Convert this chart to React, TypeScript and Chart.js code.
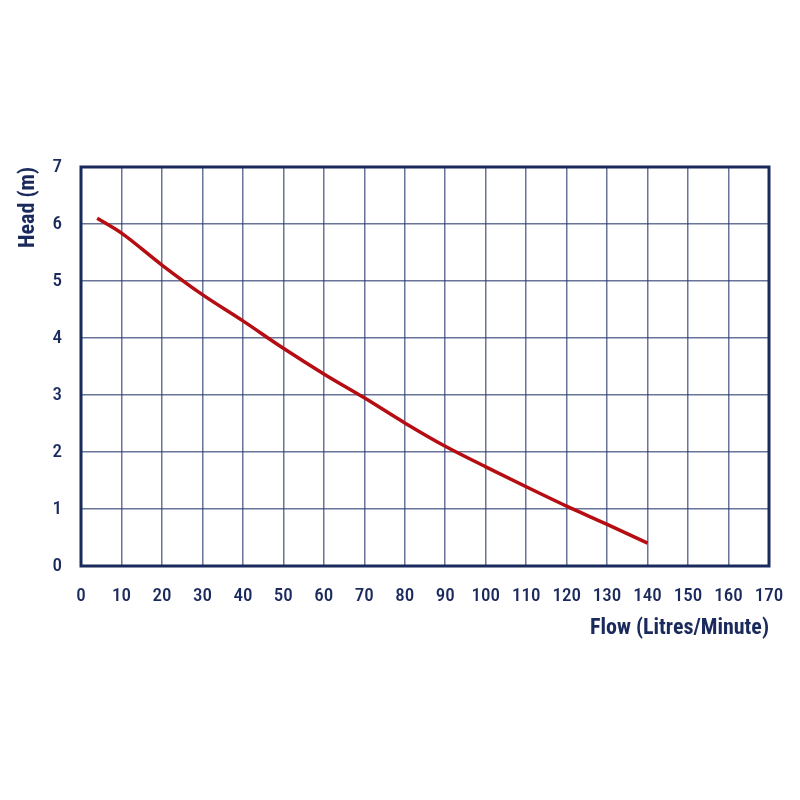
import { Chart, registerables } from 'chart.js';
import { useEffect, useRef } from 'react';

Chart.register(...registerables);

// flow (L/min) vs head (m)
const flow = [4, 10, 20, 30, 40, 50, 60, 70, 80, 90, 100, 110, 120, 130, 140];
const head = [6.1, 5.84, 5.28, 4.76, 4.3, 3.82, 3.37, 2.95, 2.51, 2.1, 1.74, 1.39, 1.05, 0.73, 0.4];
const xTicks = [0, 10, 20, 30, 40, 50, 60, 70, 80, 90, 100, 110, 120, 130, 140, 150, 160, 170];
const yTicks = [0, 1, 2, 3, 4, 5, 6, 7];

const navy = '#1b2a5c';
const fontFamily = "'Roboto Condensed', Roboto, sans-serif";

// draws the heavy outer frame around the plot
const framePlugin = {
    id: 'frame',
    afterDraw(chart: Chart) {
        const { ctx, chartArea } = chart;
        ctx.save();
        ctx.strokeStyle = navy;
        ctx.lineWidth = 3;
        ctx.strokeRect(chartArea.left, chartArea.top, chartArea.right - chartArea.left, chartArea.bottom - chartArea.top);
        ctx.restore();
    },
};

function App() {
    const canvasRef = useRef<HTMLCanvasElement | null>(null);
    const chartRef = useRef<Chart | null>(null);

    useEffect(() => {
        if (!canvasRef.current) return;
        document.body.style.margin = '0';

        chartRef.current = new Chart(canvasRef.current, {
            type: 'line',
            data: {
                datasets: [
                    {
                        data: flow.map((f, i) => ({ x: f, y: head[i] })),
                        borderColor: '#b50d12',
                        borderWidth: 3.5,
                        pointRadius: 0,
                        cubicInterpolationMode: 'monotone',
                        fill: false,
                    },
                ],
            },
            options: {
                animation: false,
                responsive: false,
                layout: { padding: { top: 167, right: 31, left: 0, bottom: 0 } },
                plugins: { legend: { display: false }, tooltip: { enabled: false } },
                scales: {
                    x: {
                        type: 'linear',
                        min: 0,
                        max: 170,
                        afterBuildTicks: (axis: any) => {
                            axis.ticks = xTicks.map((v) => ({ value: v }));
                        },
                        afterFit: (axis: any) => {
                            axis.height = 234;
                            axis.paddingLeft = 0;
                            axis.paddingRight = 0;
                        },
                        grid: { color: 'rgba(40,58,110,0.7)', lineWidth: 1.5, drawTicks: false },
                        border: { display: false },
                        ticks: {
                            color: navy,
                            padding: 19,
                            maxRotation: 0,
                            autoSkip: false,
                            font: { family: fontFamily, size: 19, weight: 500 },
                        },
                        title: {
                            display: true,
                            text: 'Flow (Litres/Minute)',
                            align: 'end',
                            color: navy,
                            font: { family: fontFamily, size: 22, weight: 'bold' },
                            padding: { top: 0, bottom: 158 },
                        },
                    },
                    y: {
                        type: 'linear',
                        min: 0,
                        max: 7,
                        afterBuildTicks: (axis: any) => {
                            axis.ticks = yTicks.map((v) => ({ value: v }));
                        },
                        afterFit: (axis: any) => {
                            axis.width = 81;
                            axis.paddingTop = 0;
                            axis.paddingBottom = 0;
                        },
                        grid: { color: 'rgba(40,58,110,0.7)', lineWidth: 1.5, drawTicks: false },
                        border: { display: false },
                        ticks: {
                            color: navy,
                            padding: 19,
                            font: { family: fontFamily, size: 19, weight: 500 },
                        },
                        title: {
                            display: true,
                            text: 'Head (m)',
                            align: 'end',
                            color: navy,
                            font: { family: fontFamily, size: 22, weight: 'bold' },
                            padding: { top: 15, bottom: 0 },
                        },
                    },
                },
            },
            plugins: [framePlugin],
        });

        return () => {
            if (chartRef.current) {
                chartRef.current.destroy();
                chartRef.current = null;
            }
        };
    }, []);

    return <canvas ref={canvasRef} width='800' height='800' style={{ display: 'block' }}></canvas>;
}

export default App;
